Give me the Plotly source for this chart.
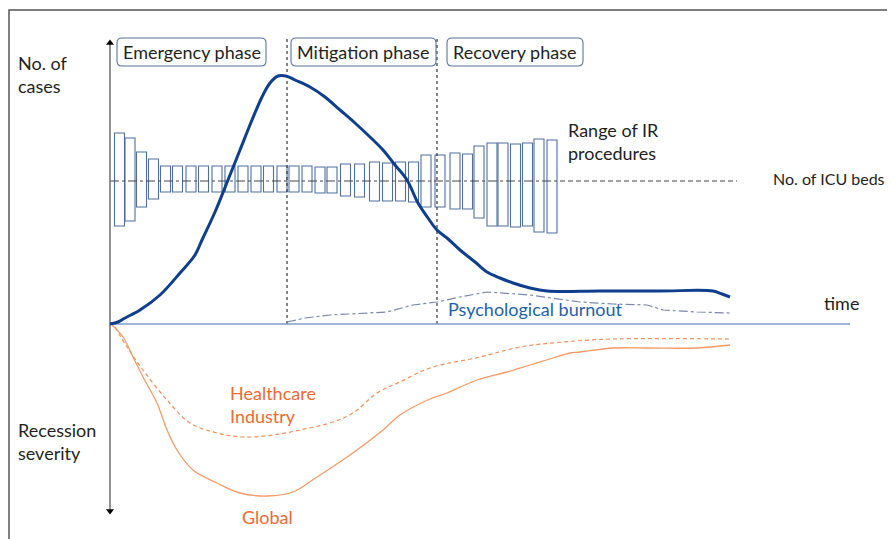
import plotly.graph_objects as go

# ---------------- data (t = time units from origin, v = level above baseline) ----------------
cases_t = [0, 8, 15, 30, 50, 70, 85, 92, 105, 118, 130, 142, 152, 160, 168, 176, 185, 200, 215, 230,
           245, 260, 273, 285, 297, 308, 318, 327, 337, 350, 365, 377, 390, 403, 420, 437, 490, 550,
           603, 612, 620]
cases_v = [0, 2, 6, 14, 29, 51, 69, 84, 112, 144, 174, 204, 227, 241, 248, 248, 244, 237, 227, 214,
           201, 187, 174, 159, 144, 121, 106, 94, 86, 74, 62, 52, 46, 41, 36, 33, 33, 33,
           33, 30, 27]

burnout_t = [177, 195, 220, 253, 277, 303, 327, 350, 377, 420, 470, 503, 537, 553, 587, 620]
burnout_v = [2, 6, 9, 11, 12, 19, 22, 27, 32, 29, 22, 20, 19, 14, 12, 11]

global_t = [2, 13, 23, 33, 47, 57, 67, 83, 107, 130, 157, 183, 207, 240, 273, 290, 320, 337, 367,
            397, 420, 443, 460, 470, 503, 537, 587, 620]
global_v = [-1, -13, -33, -53, -79, -106, -126, -146, -159, -169, -172, -168, -153, -131, -106, -91,
            -75, -69, -56, -48, -41, -34, -29, -28, -24, -24, -24, -21]

health_t = [5, 17, 33, 57, 80, 107, 133, 163, 190, 223, 243, 267, 290, 320, 370, 410, 453, 503, 620]
health_v = [-3, -23, -46, -76, -99, -109, -113, -111, -106, -98, -89, -69, -58, -44, -33, -23, -18,
            -15, -15]

# IR procedure ranges: time centre, upper and lower level
box_t = [9.5, 20, 31.5, 43.5, 55.5, 67.5, 81, 93.5, 107, 120, 133, 146, 158.5, 172, 184, 197, 210,
         222, 235.5, 249.5, 264.5, 277.5, 290.5, 303.5, 316, 330, 345, 357.5, 369, 382, 393, 405.5,
         417.5, 429, 442]
box_hi = [191, 186, 172, 165, 158, 158, 158, 158, 158, 158, 158, 158, 158, 158, 158, 158,
          157, 157, 160, 160, 162, 161, 162, 162, 169, 169, 171, 170, 178, 181, 181, 180, 181, 185, 184]
box_lo = [98, 103, 117, 125, 132, 132, 132, 132, 132, 132, 132, 132, 132, 132, 132, 132,
          131, 131, 128, 127, 123, 123, 123, 122, 117, 117, 115, 115, 106, 98, 98, 97, 98, 92, 91]

icu_level = 143
phase_names = ["Emergency phase", "Mitigation phase", "Recovery phase"]
phase_start = [7, 181, 337]
phase_end = [156, 326, 473]
phase_dividers = [177, 327]

# ---------------- styles ----------------
FONT = "Lato, 'Liberation Sans', Arial, sans-serif"
DARK = "#231f20"
NAVY = "#0f3f8c"
BOXC = "#4f6f9f"
ORANGE_T = "#ec6a35"

fig = go.Figure()
shapes = []
annotations = []

# outer frame
shapes.append(dict(type="rect", xref="x", yref="y", x0=-101, x1=820, y0=314, y1=-240,
                   line=dict(color="#555555", width=1.5), layer="below"))

# IR procedure boxes
BW = 10
for t, hi, lo in zip(box_t, box_hi, box_lo):
    shapes.append(dict(type="rect", xref="x", yref="y", x0=t - BW / 2, x1=t + BW / 2, y0=lo, y1=hi,
                       line=dict(color=BOXC, width=1.1), layer="below"))

# phase dividers
for d in phase_dividers:
    shapes.append(dict(type="line", xref="x", yref="y", x0=d, x1=d, y0=0, y1=287,
                       line=dict(color="#333333", width=1.2, dash="dot"), layer="below"))


def rounded(x0, x1, y0, y1, r=5):
    return (f"M {x0 + r},{y1} L {x1 - r},{y1} Q {x1},{y1} {x1},{y1 - r} "
            f"L {x1},{y0 + r} Q {x1},{y0} {x1 - r},{y0} L {x0 + r},{y0} "
            f"Q {x0},{y0} {x0},{y0 + r} L {x0},{y1 - r} Q {x0},{y1} {x0 + r},{y1} Z")


for name, a, b in zip(phase_names, phase_start, phase_end):
    shapes.append(dict(type="path", xref="x", yref="y", path=rounded(a, b, 258, 286),
                       line=dict(color="#5a7599", width=1.1), fillcolor="white", layer="above"))
    annotations.append(dict(x=(a + b) / 2, y=272, text=name, showarrow=False,
                            xanchor="center", yanchor="middle",
                            font=dict(family=FONT, size=18, color=DARK)))

# ICU beds line
fig.add_trace(go.Scatter(x=[0, 450], y=[icu_level, icu_level], mode="lines",
                         line=dict(color="#444444", width=1, dash="dashdot"), hoverinfo="skip"))
fig.add_trace(go.Scatter(x=[450, 627], y=[icu_level, icu_level], mode="lines",
                         line=dict(color="#444444", width=1, dash="5px,3px"), hoverinfo="skip"))

# time axis
fig.add_trace(go.Scatter(x=[0, 740], y=[0, 0], mode="lines",
                         line=dict(color="#7d9ccb", width=1.5), hoverinfo="skip"))
# vertical axis
fig.add_trace(go.Scatter(x=[0, 0], y=[282, -189], mode="lines",
                         line=dict(color="#777777", width=1.6), hoverinfo="skip"))
fig.add_trace(go.Scatter(x=[0, 0], y=[281, -187], mode="markers",
                         marker=dict(symbol=["triangle-up", "triangle-down"], size=7, color="black"),
                         hoverinfo="skip"))

# recession curves
fig.add_trace(go.Scatter(x=health_t, y=health_v, mode="lines", line_shape="spline",
                         line=dict(color="#f0905a", width=1.2, dash="4px,3px"), hoverinfo="skip"))
fig.add_trace(go.Scatter(x=global_t, y=global_v, mode="lines", line_shape="spline",
                         line=dict(color="#f29b68", width=1.3), hoverinfo="skip"))

# psychological burnout
fig.add_trace(go.Scatter(x=burnout_t, y=burnout_v, mode="lines",
                         line=dict(color="#7c88a8", width=1.2, dash="dashdot"), hoverinfo="skip"))

# cases curve
fig.add_trace(go.Scatter(x=cases_t, y=cases_v, mode="lines", line_shape="spline",
                         line=dict(color=NAVY, width=3), hoverinfo="skip"))

# labels
def label(x, y, text, color=DARK, size=18):
    annotations.append(dict(x=x, y=y, text=text, showarrow=False, xanchor="left", yanchor="middle",
                            align="left", font=dict(family=FONT, size=size, color=color)))


label(-94, 250, "No. of<br>cases")
label(-94, -117, "Recession<br>severity")
label(456, 183, "Range of IR<br>procedures")
label(661, 146, "No. of ICU beds", size=16)
label(712, 21, "time")
label(336, 15, "Psychological burnout", color="#1f5fa8")
label(118, -80, "Healthcare<br>Industry", color=ORANGE_T)
label(130, -193, "Global", color=ORANGE_T)

# the page body has an 8px margin; offset the ranges so marks land where they belong
fig.update_layout(
    width=895, height=539, autosize=False,
    margin=dict(l=0, r=0, t=0, b=0),
    paper_bgcolor="white", plot_bgcolor="white",
    showlegend=False,
    xaxis=dict(range=[-102, 793], visible=False, fixedrange=True),
    yaxis=dict(range=[-223, 316], visible=False, fixedrange=True),
    shapes=shapes, annotations=annotations,
)

fig.write_html("out.html")
